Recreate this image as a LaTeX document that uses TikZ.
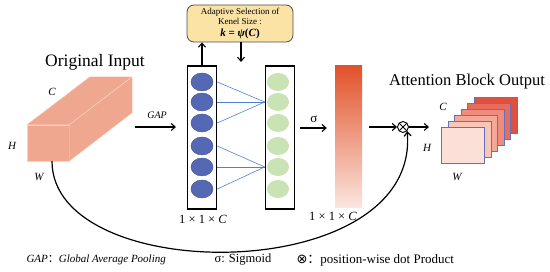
\documentclass[tikz,border=0pt]{standalone}
\usepackage{fontspec}
\setmainfont{Liberation Serif}
\newfontfamily\symfont{DejaVu Sans}
\newfontfamily\cjkfont{Noto Sans CJK SC}
\usepackage{xcolor}
\usetikzlibrary{positioning, shapes.geometric, arrows.meta, calc}

\definecolor{cubefill}{HTML}{F0A78F}
\definecolor{cubeedge}{HTML}{F8D2C4}
\definecolor{cellblue}{HTML}{5468B4}
\definecolor{cellgreen}{HTML}{C9E3B5}
\definecolor{linkblue}{HTML}{4F7FD6}
\definecolor{kfill}{HTML}{FBE3A6}
\definecolor{bartop}{HTML}{E2522A}
\definecolor{barbot}{HTML}{FBE6DF}
\definecolor{fmapedge}{HTML}{6272C0}
\definecolor{fmA}{HTML}{E0503E}
\definecolor{fmB}{HTML}{E86C5C}
\definecolor{fmC}{HTML}{F08C7E}
\definecolor{fmD}{HTML}{F5A898}
\definecolor{fmE}{HTML}{F8C5B6}
\definecolor{fmF}{HTML}{FAE0D7}

\begin{document}
\begin{tikzpicture}[
  x=1pt, y=-1pt,
  arrow/.style={-{Straight Barb[length=4pt,width=7pt]}, line width=1.1pt, black},
  column/.style={
    rectangle, draw=black, line width=1.6pt,
    minimum width=29pt, minimum height=143pt, inner sep=0pt,
  },
  cell/.style={ellipse, fill=#1, minimum width=22pt, minimum height=18pt, inner sep=0pt},
  link/.style={draw=linkblue, line width=0.6pt},
  kbox/.style={
    rectangle, rounded corners=7pt, draw=black!70, line width=0.8pt,
    fill=kfill, minimum width=106pt, minimum height=37pt,
    align=center, font=\fontsize{9}{10.5}\selectfont, inner sep=2pt,
  },
  fmap/.style={
    rectangle, draw=fmapedge, line width=0.8pt, fill=#1,
    minimum width=43pt, minimum height=36pt, inner sep=0pt, anchor=north west,
  },
  title/.style={font=\fontsize{16.5}{18}\selectfont},
  dimlbl/.style={font=\fontsize{11}{12}\selectfont\itshape},
  sizelbl/.style={font=\fontsize{12.5}{13}\selectfont},
  legend/.style={font=\fontsize{12}{13}\selectfont, anchor=west},
]
\useasboundingbox (0,0) rectangle (550,272);

% input cuboid
\node[rectangle, fill=cubefill, draw=cubeedge, minimum width=42pt, minimum height=36pt, inner sep=0pt] (front) at (48,143) {};
\filldraw[fill=cubefill, draw=cubeedge] (front.north west) -- ++(63,-48) -- ++(42,0) -- (front.north east) -- cycle;
\filldraw[fill=cubefill, draw=cubeedge] (front.north east) -- ++(63,-48) -- ++(0,36) -- (front.south east) -- cycle;
\node[title, font=\fontsize{17.5}{19}\selectfont] (inTitle) at (95,62) {Original Input};
\node[dimlbl] (inC) at (52,92) {C};
\node[dimlbl] (inH) at (12,146) {H};
\node[dimlbl] (inW) at (39,177) {W};

\coordinate (gapS) at (135,127);
\coordinate (gapE) at (176,127);
\draw[arrow] (gapS) -- (gapE);
\node[font=\fontsize{10}{11}\selectfont\itshape] (gapLbl) at (157,115) {GAP};

% pooled vector and conv output
\node[column] (col1) at (202,137.5) {};
\node[column] (col2) at (280,137.5) {};
\foreach \i/\y in {1/82, 2/102, 3/123, 4/146, 5/167, 6/189} {
  \node[cell=cellblue, draw=cellblue!80!black, line width=0.4pt] (b\i) at (202,\y) {};
  \node[cell=cellgreen] (g\i) at (278,\y) {};
}
\foreach \i in {1,2,3}
  \draw[link] (b\i.east -| col1.east) -- (g2.west -| col2.west);
\foreach \i in {4,5,6}
  \draw[link] (b\i.east -| col1.east) -- (g5.west -| col2.west);
\node[sizelbl] (size1) at (203,219) {1 × 1 × \textit{C}};

% kernel size box
\node[kbox] (sel) at (240,23.5) {Adaptive Selection of\\Kenel Size :\\[1pt]{\fontsize{11}{12}\selectfont\textbf{\textit{k} = \textit{ψ}(\textit{C})}}};
\draw[arrow] (col1.north) -- (col1.north |- sel.south);
\coordinate (kdown) at (241,62);
\draw[arrow] (sel.south -| kdown) -- (kdown);

% attention weights
\node[rectangle, top color=bartop, bottom color=barbot, minimum width=27pt, minimum height=142pt, inner sep=0pt] (bar) at (348.5,137) {};
\draw[arrow, shorten <=5pt, shorten >=8pt] ([yshift=9.5pt]col2.east) -- ([yshift=9.5pt]col2.east -| bar.west);
\node[font=\fontsize{13}{14}\selectfont] (sigLbl) at (314,119) {σ};
\node[sizelbl] (size2) at (333,216) {1 × 1 × \textit{C}};

% product and output
\node[circle, draw, line width=0.9pt, inner sep=0pt, minimum size=11pt,
  path picture={\draw[line width=0.8pt] (path picture bounding box.south west) -- (path picture bounding box.north east)
    (path picture bounding box.north west) -- (path picture bounding box.south east);}] (mul) at (403,127) {};
\draw[arrow, shorten <=7pt] ([yshift=10pt]bar.east) -- (mul);
\coordinate (outA) at (429,127);
\draw[arrow] (mul) -- (outA);
\draw[arrow, line width=1.2pt] ([xshift=4pt]front.south) .. controls (52,287) and (420,287) .. (mul.south east);

\foreach \k/\c in {5/fmA, 4/fmB, 3/fmC, 2/fmD, 1/fmE, 0/fmF}
  \node[fmap=\c] (out\k) at ({441+6.6*\k},{127-6*\k}) {};
\node[title] (outTitle) at (467,82) {Attention Block Output};
\node[dimlbl] (outC) at (443,107) {C};
\node[dimlbl] (outH) at (427,148) {H};
\node[dimlbl] (outW) at (457,177) {W};

% legend
\node[legend, font=\fontsize{11}{12}\selectfont] (leg1) at (23,260) {\textit{GAP}{\cjkfont ：}\textit{Global Average Pooling}};
\node[legend, font=\fontsize{12.5}{13}\selectfont] (leg2) at (211,260) {σ: Sigmoid};
\node[legend, font=\fontsize{13}{14}\selectfont] (leg3) at (293,260) {{\symfont ⊗}{\cjkfont ：}position-wise dot Product};
\end{tikzpicture}
\end{document}
